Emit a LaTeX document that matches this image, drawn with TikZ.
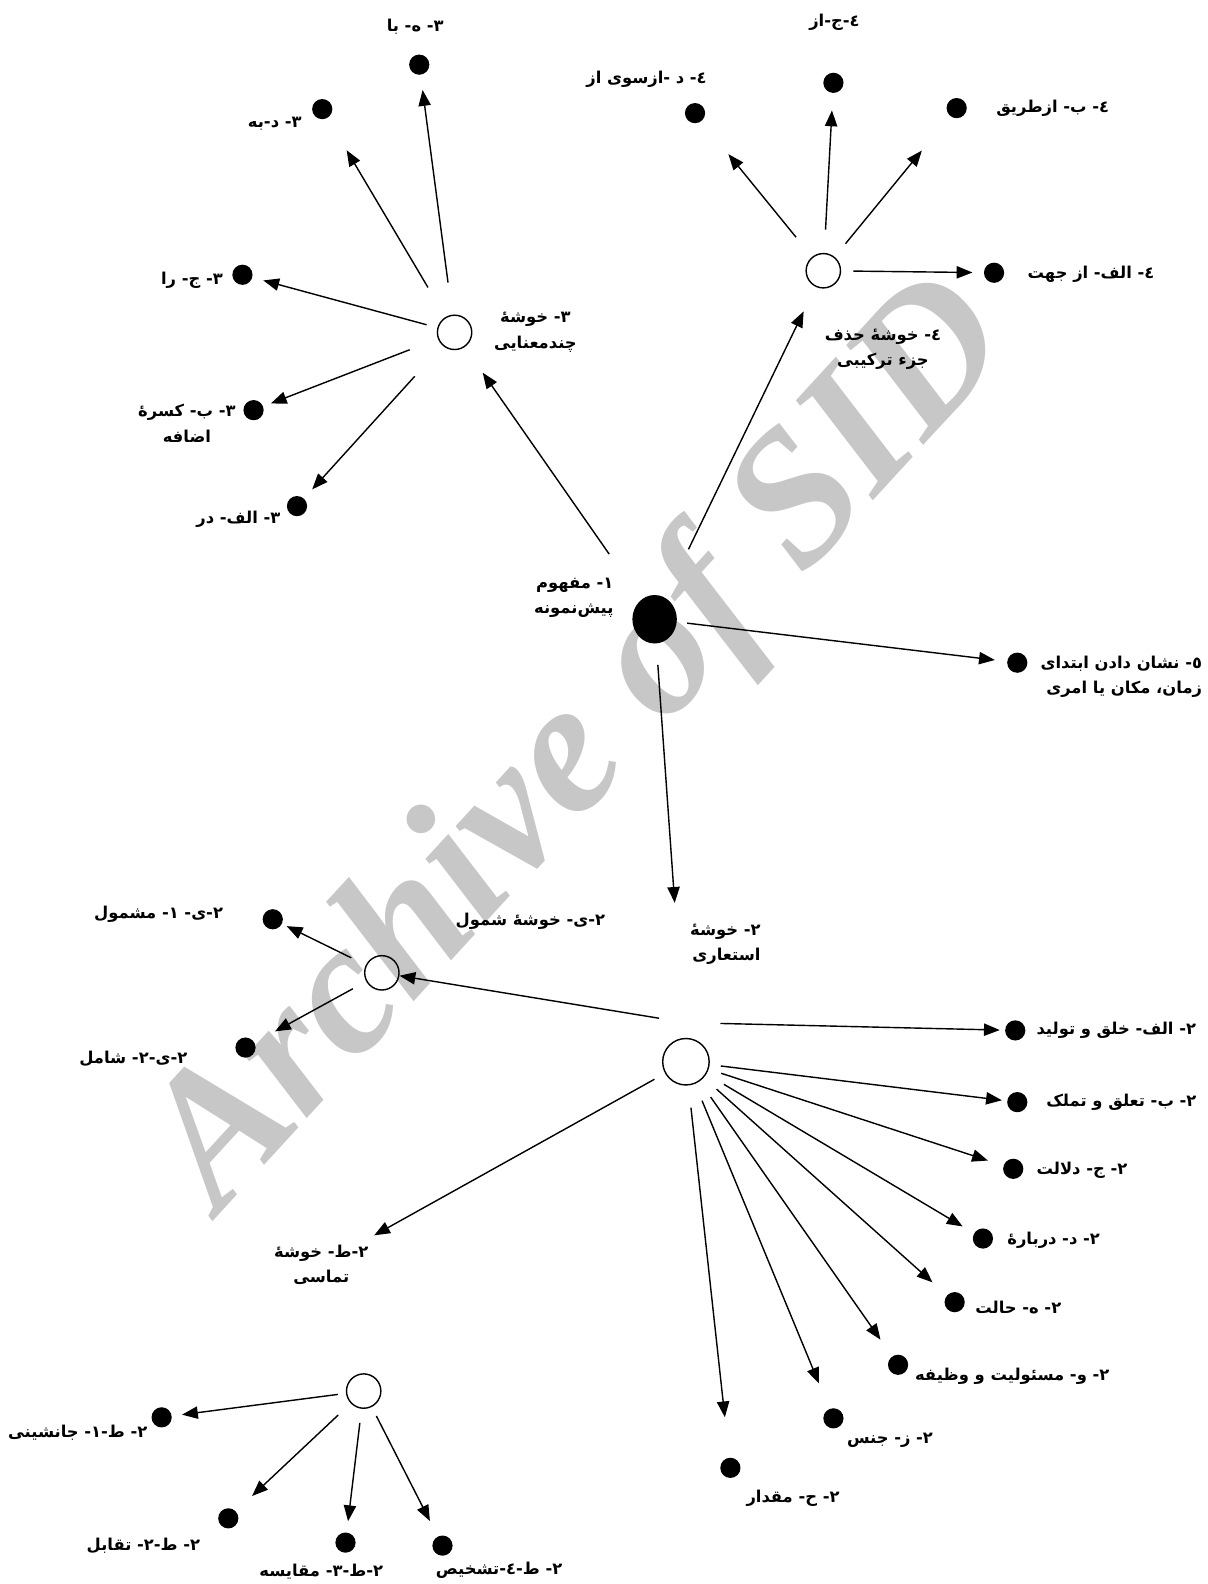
\documentclass[tikz,border=0pt]{standalone}
\usepackage{fontspec}
\setmainfont{Liberation Serif}
\newfontfamily\fa[Script=Arabic]{DejaVu Sans}
\TeXXeTstate=1
\usetikzlibrary{arrows.meta,shapes.geometric}
\newdimen\pxu \pxu=0.0202cm
\newcommand{\pers}[1]{{\fa\bfseries\beginR #1\endR}}
\tikzset{
  leaf/.style={circle, fill=black, inner sep=0pt, minimum size=20\pxu},
  hub/.style={circle, draw, line width=0.8pt, inner sep=0pt, minimum size=34\pxu},
  bighub/.style={hub, minimum size=46\pxu},
  core/.style={ellipse, fill=black, inner sep=0pt, minimum width=44\pxu, minimum height=48\pxu},
  lbl/.style={align=center, font=\fontsize{9.3}{14.5}\selectfont, inner sep=1pt},
  link/.style={-{Triangle[length=9pt,width=7pt]}, line width=0.8pt},
  wm/.style={text=black!22, font=\fontsize{108}{108}\selectfont\bfseries\itshape},
}
\begin{document}
\begin{tikzpicture}[x=0.0202cm, y=-0.0202cm]
\useasboundingbox (0,0) rectangle (1195,1568);
\node[wm, rotate=47.5] (wmark) at (578,740) {Archive of SID};
% centre
\node[core] (core) at (648,613) {};
\node[lbl, align=right] (corelbl) at (568,592) {\pers{١- مفهوم}\\\pers{پیش‌نمونه}};
% cluster 3
\node[hub] (c3) at (450,329) {};
\node[lbl] (c3lbl) at (530,329) {\pers{٣- خوشهٔ}\\\pers{چندمعنایی}};
\node[leaf] (c3e) at (415,64) {};
\node[lbl] (c3elbl) at (411,26) {\pers{٣- ه- با}};
\node[leaf] (c3d) at (319,108) {};
\node[lbl] (c3dlbl) at (272,122) {\pers{٣- د-به}};
\node[leaf] (c3c) at (240,272) {};
\node[lbl] (c3clbl) at (190,277) {\pers{٣- ج- را}};
\node[leaf] (c3b) at (251,406) {};
\node[lbl] (c3blbl) at (185,419) {\pers{٣- ب- کسرهٔ}\\\pers{اضافه}};
\node[leaf] (c3a) at (294,501) {};
\node[lbl] (c3albl) at (236,514) {\pers{٣- الف-  در}};
% cluster 4
\node[hub] (c4) at (815,268) {};
\node[lbl] (c4lbl) at (874,346) {\pers{٤-  خوشهٔ حذف}\\\pers{جزء ترکیبی}};
\node[leaf] (c4a) at (984,270) {};
\node[lbl] (c4albl) at (1080,272) {\pers{٤- الف- از جهت}};
\node[leaf] (c4b) at (947,107) {};
\node[lbl] (c4blbl) at (1042,107) {\pers{٤- ب- ازطریق}};
\node[leaf] (c4c) at (825,82) {};
\node[lbl] (c4clbl) at (826,22) {\pers{٤-ج-از}};
\node[leaf] (c4d) at (688,112) {};
\node[lbl] (c4dlbl) at (640,78) {\pers{٤- د -ازسوی از}};
% item 5
\node[leaf] (n5) at (1007,656) {};
\node[lbl, align=right] (n5lbl) at (1110,670) {\pers{٥- نشان دادن ابتدای}\\\pers{زمان، مکان یا امری}};
% cluster 2
\node[bighub] (c2) at (679,1051) {};
\node[lbl, align=right] (c2lbl) at (718,935) {\pers{٢- خوشهٔ}\\\pers{استعاری}};
\node[leaf] (c2a) at (1005,1020) {};
\node[lbl] (c2albl) at (1105,1020) {\pers{٢- الف- خلق و تولید}};
\node[leaf] (c2b) at (1007,1091) {};
\node[lbl] (c2blbl) at (1110,1091) {\pers{٢- ب- تعلق و تملک}};
\node[leaf] (c2c) at (1003,1157) {};
\node[lbl] (c2clbl) at (1071,1158) {\pers{٢- ج- دلالت}};
\node[leaf] (c2d) at (973,1226) {};
\node[lbl] (c2dlbl) at (1043,1228) {\pers{٢- د- دربارهٔ}};
\node[leaf] (c2e) at (945,1289) {};
\node[lbl] (c2elbl) at (1008,1294) {\pers{٢- ه- حالت}};
\node[leaf] (c2f) at (889,1351) {};
\node[lbl] (c2flbl) at (1002,1362) {\pers{٢- و- مسئولیت و وظیفه}};
\node[leaf] (c2g) at (825,1404) {};
\node[lbl] (c2glbl) at (881,1426) {\pers{٢- ز- جنس}};
\node[leaf] (c2h) at (723,1453) {};
\node[lbl] (c2hlbl) at (785,1483) {\pers{٢- ح- مقدار}};
% sub-cluster 2-y
\node[hub] (c2j) at (378,963) {};
\node[lbl] (c2jlbl) at (525,912) {\pers{٢-ی- خوشهٔ شمول}};
\node[leaf] (c2j1) at (270,910) {};
\node[lbl] (c2j1lbl) at (157,905) {\pers{٢-ی- ١- مشمول}};
\node[leaf] (c2j2) at (243,1037) {};
\node[lbl] (c2j2lbl) at (132,1048) {\pers{٢-ی-٢- شامل}};
% sub-cluster 2-t
\node[lbl] (c2ilbl) at (318,1252) {\pers{٢-ط- خوشهٔ}\\\pers{تماسی}};
\node[hub] (c2i) at (360,1377) {};
\node[leaf] (c2i1) at (160,1403) {};
\node[lbl] (c2i1lbl) at (77,1418) {\pers{٢- ط-١- جانشینی}};
\node[leaf] (c2i2) at (226,1503) {};
\node[lbl] (c2i2lbl) at (142,1530) {\pers{٢- ط-٢- تقابل}};
\node[leaf] (c2i3) at (342,1527) {};
\node[lbl] (c2i3lbl) at (318,1556) {\pers{٢-ط-٣- مقایسه}};
\node[leaf] (c2i4) at (438,1530) {};
\node[lbl] (c2i4lbl) at (494,1554) {\pers{٢- ط-٤-تشخیص}};
% arrows from the centre
\draw[link, shorten <=55\pxu, shorten >=31\pxu] (core) -- (c3);
\draw[link, shorten <=53\pxu, shorten >=27\pxu] (core) -- (c4);
\draw[link, shorten <=10\pxu, shorten >=12\pxu] (core) -- (n5);
\draw[link, shorten <=21\pxu, shorten >=134\pxu] (core) -- (c2);
% arrows of cluster 3
\draw[link, shorten <=32\pxu, shorten >=15\pxu] (c3) -- (c3e);
\draw[link, shorten <=34\pxu, shorten >=37\pxu] (c3) -- (c3d);
\draw[link, shorten <=11\pxu, shorten >=11\pxu] (c3) -- (c3c);
\draw[link, shorten <=30\pxu, shorten >=8\pxu] (c3) -- (c3b);
\draw[link, shorten <=41\pxu, shorten >=12\pxu] (c3) -- (c3a);
% arrows of cluster 4
\draw[link, shorten <=12\pxu, shorten >=11\pxu] (c4) -- (c4a);
\draw[link, shorten <=17\pxu, shorten >=44\pxu] (c4) -- (c4b);
\draw[link, shorten <=23\pxu, shorten >=17\pxu] (c4) -- (c4c);
\draw[link, shorten <=25\pxu, shorten >=42\pxu] (c4) -- (c4d);
% arrows of cluster 2
\draw[link, shorten <=34\pxu, shorten >=5\pxu] ([yshift=15\pxu]c2.north) -- (c2a);
\draw[link, shorten <=11\pxu, shorten >=5\pxu] (c2) -- (c2b);
\draw[link, shorten <=13\pxu, shorten >=16\pxu] (c2) -- (c2c);
\draw[link, shorten <=20\pxu, shorten >=13\pxu] (c2) -- (c2d);
\draw[link, shorten <=17\pxu, shorten >=19\pxu] (c2) -- (c2e);
\draw[link, shorten <=19\pxu, shorten >=20\pxu] (c2) -- (c2f);
\draw[link, shorten <=18\pxu, shorten >=27\pxu] (c2) -- (c2g);
\draw[link, shorten <=22\pxu, shorten >=40\pxu] (c2) -- (c2h);
\draw[link, shorten <=12\pxu, shorten >=15\pxu] (c2) -- (c2ilbl);
\draw[link, shorten <=27\pxu, shorten >=0\pxu] ([yshift=15\pxu]c2.north) -- (c2j);
% arrows of the sub-clusters
\draw[link, shorten <=16\pxu, shorten >=5\pxu] (c2j) -- (c2j1);
\draw[link, shorten <=15\pxu, shorten >=23\pxu] (c2j) -- (c2j2);
\draw[link, shorten <=8\pxu, shorten >=10\pxu] (c2i) -- (c2i1);
\draw[link, shorten <=17\pxu, shorten >=22\pxu] (c2i) -- (c2i2);
\draw[link, shorten <=14\pxu, shorten >=11\pxu] (c2i) -- (c2i3);
\draw[link, shorten <=10\pxu, shorten >=17\pxu] (c2i) -- (c2i4);
\end{tikzpicture}
\end{document}
